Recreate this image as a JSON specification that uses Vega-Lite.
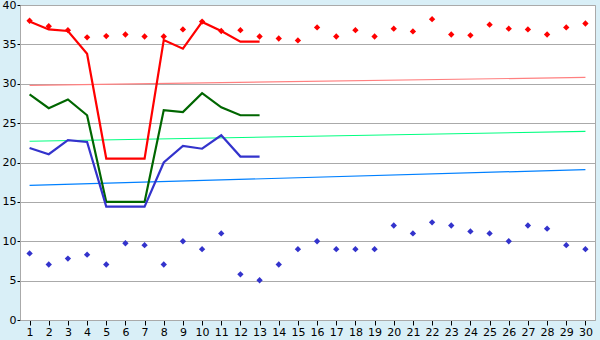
{
  "$schema": "https://vega.github.io/schema/vega-lite/v6.json",
  "width": 575,
  "height": 315,
  "autosize": {"type": "none"},
  "padding": {"left": 20, "top": 5, "right": 5, "bottom": 20},
  "background": "#d9eff7",
  "config": {
    "view": {"fill": "white", "stroke": "#aaaaaa", "strokeWidth": 1},
    "axis": {"labelFont": "DejaVu Sans", "labelFontSize": 11, "labelColor": "black", "domainColor": "#aaaaaa", "tickColor": "black", "gridColor": "#aaaaaa", "gridOpacity": 1}
  },
  "datasets": {
    "trend": [
      {"day": 1, "value": 29.8, "series": "trendR"},
      {"day": 30, "value": 30.8, "series": "trendR"},
      {"day": 1, "value": 22.7, "series": "trendG"},
      {"day": 30, "value": 23.95, "series": "trendG"},
      {"day": 1, "value": 17.1, "series": "trendB"},
      {"day": 30, "value": 19.1, "series": "trendB"}
    ],
    "lines": [
      {"day": 1, "value": 37.9, "series": "red"},
      {"day": 2, "value": 36.9, "series": "red"},
      {"day": 3, "value": 36.7, "series": "red"},
      {"day": 4, "value": 33.8, "series": "red"},
      {"day": 5, "value": 20.5, "series": "red"},
      {"day": 6, "value": 20.5, "series": "red"},
      {"day": 7, "value": 20.5, "series": "red"},
      {"day": 8, "value": 35.55, "series": "red"},
      {"day": 9, "value": 34.45, "series": "red"},
      {"day": 10, "value": 37.85, "series": "red"},
      {"day": 11, "value": 36.7, "series": "red"},
      {"day": 12, "value": 35.35, "series": "red"},
      {"day": 13, "value": 35.35, "series": "red"},
      {"day": 1, "value": 28.65, "series": "green"},
      {"day": 2, "value": 26.9, "series": "green"},
      {"day": 3, "value": 28.0, "series": "green"},
      {"day": 4, "value": 26.0, "series": "green"},
      {"day": 5, "value": 15.0, "series": "green"},
      {"day": 6, "value": 15.0, "series": "green"},
      {"day": 7, "value": 15.0, "series": "green"},
      {"day": 8, "value": 26.65, "series": "green"},
      {"day": 9, "value": 26.4, "series": "green"},
      {"day": 10, "value": 28.8, "series": "green"},
      {"day": 11, "value": 27.0, "series": "green"},
      {"day": 12, "value": 26.0, "series": "green"},
      {"day": 13, "value": 26.0, "series": "green"},
      {"day": 1, "value": 21.85, "series": "blue"},
      {"day": 2, "value": 21.05, "series": "blue"},
      {"day": 3, "value": 22.85, "series": "blue"},
      {"day": 4, "value": 22.6, "series": "blue"},
      {"day": 5, "value": 14.4, "series": "blue"},
      {"day": 6, "value": 14.4, "series": "blue"},
      {"day": 7, "value": 14.4, "series": "blue"},
      {"day": 8, "value": 20.0, "series": "blue"},
      {"day": 9, "value": 22.1, "series": "blue"},
      {"day": 10, "value": 21.75, "series": "blue"},
      {"day": 11, "value": 23.45, "series": "blue"},
      {"day": 12, "value": 20.75, "series": "blue"},
      {"day": 13, "value": 20.75, "series": "blue"}
    ],
    "points": [
      {"day": 1, "value": 38.0, "series": "redPts"},
      {"day": 2, "value": 37.3, "series": "redPts"},
      {"day": 3, "value": 36.8, "series": "redPts"},
      {"day": 4, "value": 35.9, "series": "redPts"},
      {"day": 5, "value": 36.05, "series": "redPts"},
      {"day": 6, "value": 36.25, "series": "redPts"},
      {"day": 7, "value": 36.0, "series": "redPts"},
      {"day": 8, "value": 36.0, "series": "redPts"},
      {"day": 9, "value": 36.9, "series": "redPts"},
      {"day": 10, "value": 37.9, "series": "redPts"},
      {"day": 11, "value": 36.7, "series": "redPts"},
      {"day": 12, "value": 36.8, "series": "redPts"},
      {"day": 13, "value": 36.0, "series": "redPts"},
      {"day": 14, "value": 35.75, "series": "redPts"},
      {"day": 15, "value": 35.5, "series": "redPts"},
      {"day": 16, "value": 37.15, "series": "redPts"},
      {"day": 17, "value": 36.0, "series": "redPts"},
      {"day": 18, "value": 36.8, "series": "redPts"},
      {"day": 19, "value": 36.0, "series": "redPts"},
      {"day": 20, "value": 37.0, "series": "redPts"},
      {"day": 21, "value": 36.65, "series": "redPts"},
      {"day": 22, "value": 38.2, "series": "redPts"},
      {"day": 23, "value": 36.25, "series": "redPts"},
      {"day": 24, "value": 36.15, "series": "redPts"},
      {"day": 25, "value": 37.5, "series": "redPts"},
      {"day": 26, "value": 37.0, "series": "redPts"},
      {"day": 27, "value": 36.9, "series": "redPts"},
      {"day": 28, "value": 36.25, "series": "redPts"},
      {"day": 29, "value": 37.15, "series": "redPts"},
      {"day": 30, "value": 37.65, "series": "redPts"},
      {"day": 1, "value": 8.45, "series": "bluePts"},
      {"day": 2, "value": 7.05, "series": "bluePts"},
      {"day": 3, "value": 7.8, "series": "bluePts"},
      {"day": 4, "value": 8.3, "series": "bluePts"},
      {"day": 5, "value": 7.05, "series": "bluePts"},
      {"day": 6, "value": 9.75, "series": "bluePts"},
      {"day": 7, "value": 9.5, "series": "bluePts"},
      {"day": 8, "value": 7.05, "series": "bluePts"},
      {"day": 9, "value": 10.0, "series": "bluePts"},
      {"day": 10, "value": 9.0, "series": "bluePts"},
      {"day": 11, "value": 11.0, "series": "bluePts"},
      {"day": 12, "value": 5.8, "series": "bluePts"},
      {"day": 13, "value": 5.05, "series": "bluePts"},
      {"day": 14, "value": 7.05, "series": "bluePts"},
      {"day": 15, "value": 9.0, "series": "bluePts"},
      {"day": 16, "value": 10.0, "series": "bluePts"},
      {"day": 17, "value": 9.0, "series": "bluePts"},
      {"day": 18, "value": 9.0, "series": "bluePts"},
      {"day": 19, "value": 9.0, "series": "bluePts"},
      {"day": 20, "value": 12.0, "series": "bluePts"},
      {"day": 21, "value": 11.0, "series": "bluePts"},
      {"day": 22, "value": 12.4, "series": "bluePts"},
      {"day": 23, "value": 12.0, "series": "bluePts"},
      {"day": 24, "value": 11.25, "series": "bluePts"},
      {"day": 25, "value": 11.0, "series": "bluePts"},
      {"day": 26, "value": 10.0, "series": "bluePts"},
      {"day": 27, "value": 12.0, "series": "bluePts"},
      {"day": 28, "value": 11.6, "series": "bluePts"},
      {"day": 29, "value": 9.5, "series": "bluePts"},
      {"day": 30, "value": 9.0, "series": "bluePts"}
    ]
  },
  "encoding": {
    "x": {
      "field": "day", "type": "quantitative",
      "scale": {"domain": [0.5, 30.5], "nice": false, "zero": false},
      "axis": {"title": null, "values": [1,2,3,4,5,6,7,8,9,10,11,12,13,14,15,16,17,18,19,20,21,22,23,24,25,26,27,28,29,30], "grid": false, "tickSize": 5, "labelPadding": 1, "format": "d", "labelFlush": false, "labelOverlap": false}
    },
    "y": {
      "field": "value", "type": "quantitative",
      "scale": {"domain": [0, 40], "nice": false},
      "axis": {"title": null, "values": [0,5,10,15,20,25,30,35,40], "grid": true, "tickSize": 3, "labelPadding": 1, "labelFlush": false}
    },
    "color": {
      "field": "series", "type": "nominal", "legend": null,
      "scale": {
        "domain": ["trendR", "trendG", "trendB", "red", "green", "blue", "redPts", "bluePts"],
        "range": ["#ff8080", "#00ff80", "#0080ff", "#ff0000", "#006600", "#3333cc", "#ff0000", "#3333cc"]
      }
    }
  },
  "layer": [
    {"data": {"name": "trend"}, "mark": {"type": "line", "strokeWidth": 1.2}, "encoding": {"detail": {"field": "series"}}},
    {"data": {"name": "lines"}, "mark": {"type": "line", "strokeWidth": 2.2}, "encoding": {"detail": {"field": "series"}}},
    {"data": {"name": "points"}, "mark": {"type": "point", "shape": "diamond", "filled": true, "size": 40, "opacity": 1}}
  ]
}
